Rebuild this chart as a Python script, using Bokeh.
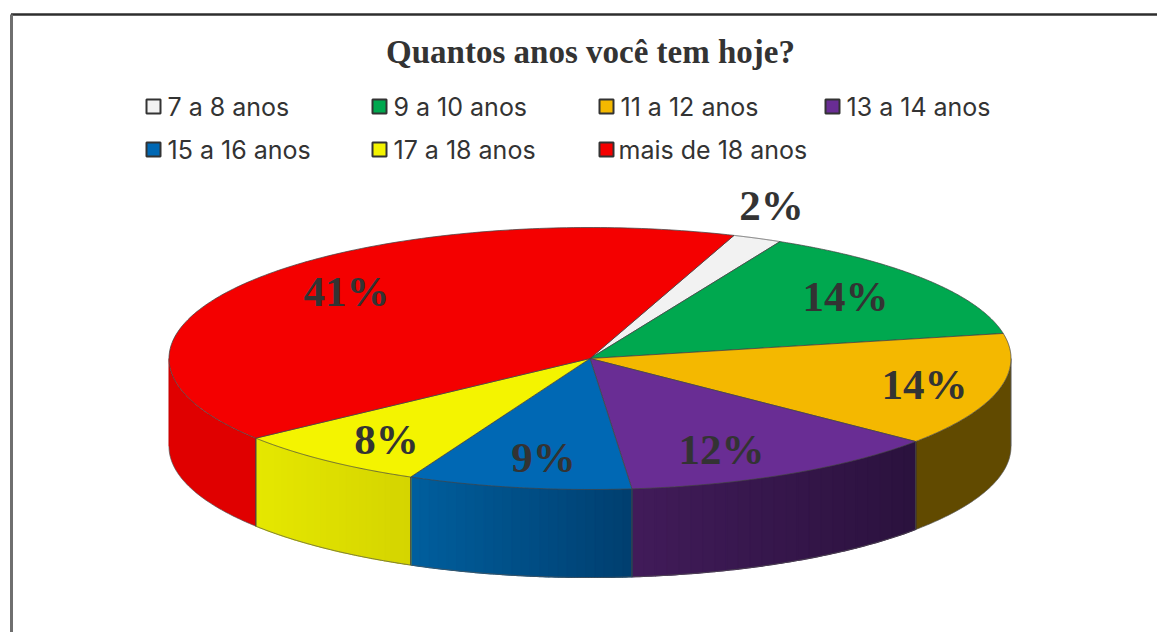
import numpy as np
from bokeh.core.properties import value
from bokeh.embed import file_html
from bokeh.models import Range1d
from bokeh.plotting import figure
from bokeh.resources import INLINE

title = "Quantos anos você tem hoje?"
categories = ["7 a 8 anos", "9 a 10 anos", "11 a 12 anos", "13 a 14 anos",
              "15 a 16 anos", "17 a 18 anos", "mais de 18 anos"]
# slice sizes as drawn in the picture (percent of the ellipse's turn)
shares = [1.9, 14.5, 14.0, 12.5, 8.6, 7.6, 41.0]
labels = ["2%", "14%", "14%", "12%", "9%", "8%", "41%"]
colors = ["#f2f2f2", "#00a84f", "#f4b800", "#692d94", "#0068b4", "#f4f400", "#f40000"]
side_start = ["#c0c0c0", "#006030", "#614a00", "#2b123e", "#003f70", "#d5d500", "#e00000"]
side_end = ["#c0c0c0", "#006030", "#614a00", "#421c5a", "#005f9e", "#e6e800", "#e00000"]

legend_x = [153, 379, 606, 832, 153, 379, 606]
legend_text_x = [167, 393, 620, 846, 167, 393, 618]
legend_y = [106, 106, 106, 106, 149, 149, 149]
label_x = [771, 845, 924, 721, 543, 386, 346]
label_y = [205, 296, 384, 449, 457, 439, 291]

W, H = 1157, 632
CX, CY, RX, RY, DEPTH, START = 589.5, 358, 421, 131, 88, 70.0
TEXT = "#333333"


def hex_rgb(h):
    return np.array([int(h[i:i + 2], 16) for i in (1, 3, 5)], dtype=float)


def ex(a):
    return CX + RX * np.cos(np.radians(a))


def ey(a, drop=0.0):
    return CY - RY * np.sin(np.radians(a)) + drop


p = figure(width=W, height=H, x_range=Range1d(0, W), y_range=Range1d(H, 0),
           output_backend="svg", toolbar_location=None, min_border=0, outline_line_color=None)
p.axis.visible = False
p.grid.visible = False
p.background_fill_color = "white"
p.border_fill_color = "white"

# window frame
p.segment([10.5], [14], [W], [14], line_color="#2e2e2e", line_width=2.4)
p.segment([11], [14], [11], [H], line_color="#6f6f6f", line_width=3)

sweep = np.array(shares) / sum(shares) * 360.0
ends = START - np.cumsum(sweep)
starts = ends + sweep

# side wall: bands shaded from one colour to the other, left to right on screen
for a0, a1, c0, c1 in zip(starts, ends, side_start, side_end):
    lo = max(a1, -180)
    hi = min(a0, 0)
    if hi <= lo:
        continue
    t = np.linspace(lo, hi, 80)
    rgb0, rgb1 = hex_rgb(c1), hex_rgb(c0)
    mid = "#%02x%02x%02x" % tuple(((rgb0 + rgb1) / 2).astype(int))
    p.patch(list(ex(t)) + list(ex(t[::-1])), list(ey(t)) + list(ey(t[::-1], DEPTH)),
            fill_color=mid, line_color=None)
    if c0 != c1:
        n = 24
        edges = np.linspace(ex(lo), ex(hi), n + 1)
        to_angle = lambda x: -np.degrees(np.arccos((x - CX) / RX))
        xs, ys, fills = [], [], []
        for i in range(n):
            s = np.linspace(to_angle(edges[i]), to_angle(edges[i + 1]), 4)
            xs.append(list(ex(s)) + list(ex(s[::-1])))
            ys.append(list(ey(s)) + list(ey(s[::-1], DEPTH)))
            col = (rgb0 + (rgb1 - rgb0) * (i + 0.5) / n).astype(int)
            fills.append("#%02x%02x%02x" % tuple(col))
        p.patches(xs, ys, fill_color=fills, line_color=fills, line_width=1.2)
    # slice edges on the wall
    p.line(ex(t), ey(t, DEPTH), line_color="#555555", line_width=1, line_alpha=0.7)
    for a in (lo, hi):
        if -180 < a < 0:
            p.line([ex(a), ex(a)], [ey(a), ey(a, DEPTH)], line_color="#444444", line_width=1)
# left and right silhouettes of the wall
p.line([ex(180)] * 2, [ey(180), ey(180, DEPTH)], line_color="#c00000", line_width=1)
p.line([ex(0)] * 2, [ey(0), ey(0, DEPTH)], line_color="#555555", line_width=1)

# top face
for a0, a1, col in zip(starts, ends, colors):
    t = np.linspace(a0, a1, 160)
    p.patch([CX] + list(ex(t)), [CY] + list(ey(t)), fill_color=col,
            line_color="#444444", line_width=1, line_alpha=0.75)

# labels
p.text(label_x, label_y, text=labels, text_font=value("Liberation Serif"),
       text_font_style="bold", text_font_size="43px", text_color=TEXT,
       text_align="center", text_baseline="middle")
p.text([590], [51], text=[title], text_font=value("Liberation Serif"),
       text_font_style="bold", text_font_size="33px", text_color=TEXT,
       text_align="center", text_baseline="middle")

# legend
p.scatter(legend_x, legend_y, marker="square", size=14, fill_color=colors,
          line_color="#333333", line_width=2)
p.text(legend_text_x, legend_y, text=categories, text_font=value("Inter"),
       text_font_size="25px", text_color=TEXT, text_align="left", text_baseline="middle")

open("out.html", "w").write(file_html(p, INLINE))
